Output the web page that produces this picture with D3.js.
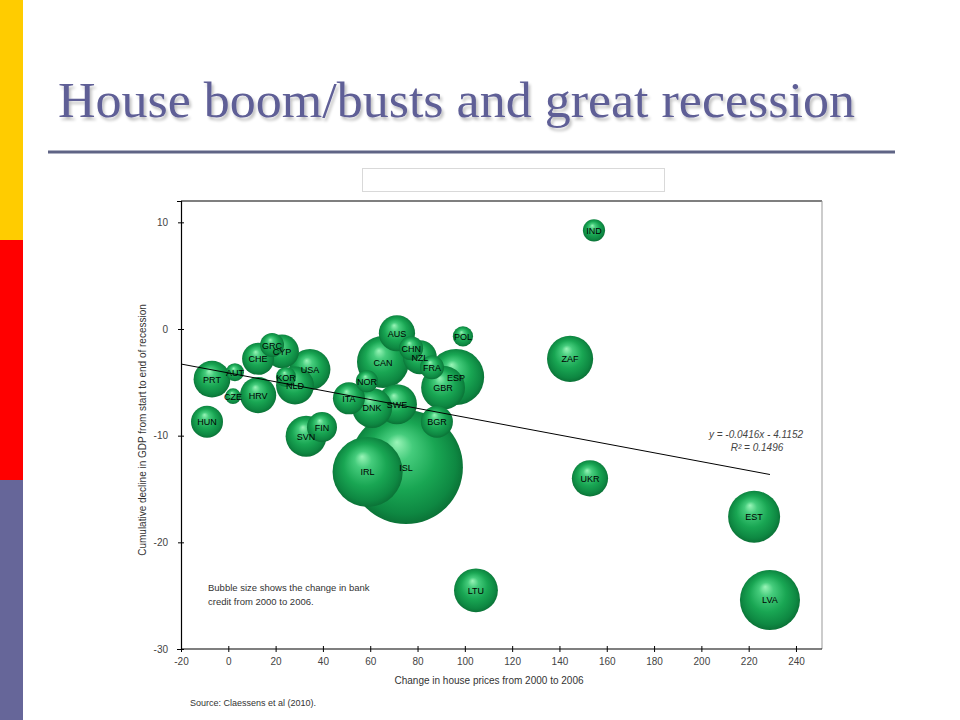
<!DOCTYPE html>
<html>
<head>
<meta charset="utf-8">
<script src="https://cdn.jsdelivr.net/npm/d3@7"></script>
<style>
  html, body { margin: 0; padding: 0; background: #fff; }
  svg { display: block; }
</style>
</head>
<body>
<svg id="chart" width="960" height="720"></svg>
<script>
// ---- data ----
const countries = ["ISL","IRL","ESP","LVA","EST","CAN","ZAF","LTU","GBR","USA","SVN","SWE","DNK","NLD","PRT","UKR","AUS","HRV","NZL","CYP","HUN","CHE","ITA","BGR","FIN","GRC","CHN","FRA","IND","NOR","POL","KOR","AUT","CZE"];
const housePrices = [75.1,58.9,96.3,229,222.3,65.4,144.5,104.7,90.8,34.5,32.9,71.3,60.8,28.2,-6.9,152.9,71.3,12.6,81,22.7,-9,12.6,51,88.2,39.6,18.5,77.3,86.1,154.6,58.6,99.2,24.4,2.8,2];
const gdpDecline = [-12.95,-13.4,-4.5,-25.4,-17.6,-3.1,-2.8,-24.5,-5.5,-3.8,-10.05,-7.05,-7.4,-5.3,-4.7,-14.0,-0.4,-6.2,-2.65,-2.1,-8.7,-2.8,-6.5,-8.7,-9.2,-1.5,-1.8,-3.6,9.25,-4.9,-0.7,-4.5,-4.05,-6.3];
const creditGrowth = [317,120,77,88,66,66,52,47,47,41,41,39,39,35,33,32,32,32,28,28,25,25,25,25,22,14,14,14,12,12,10,10,8,6];
const xTicks = [-20,0,20,40,60,80,100,120,140,160,180,200,220,240];
const yTicks = [10,0,-10,-20,-30];
const trendSlope = -0.0416, trendIntercept = -4.1152, trendR2 = 0.1496;

const svg = d3.select("#chart");
const defs = svg.append("defs");

// left stripe
const stripe = [["#FFCC00",0],["#FF0000",240],["#666699",480]];
svg.selectAll("rect.stripe").data(stripe).enter().append("rect")
  .attr("x",0).attr("y",d=>d[1]).attr("width",23).attr("height",240).attr("fill",d=>d[0]);

// title with soft shadow
const f = defs.append("filter").attr("id","tshadow").attr("x","-5%").attr("y","-20%").attr("width","110%").attr("height","150%");
f.append("feGaussianBlur").attr("in","SourceAlpha").attr("stdDeviation",1.5).attr("result","b");
f.append("feOffset").attr("in","b").attr("dx",2).attr("dy",3).attr("result","o");
f.append("feComponentTransfer").attr("in","o").attr("result","s").append("feFuncA").attr("type","linear").attr("slope",0.25);
const fm = f.append("feMerge"); fm.append("feMergeNode").attr("in","s"); fm.append("feMergeNode").attr("in","SourceGraphic");
svg.append("text").attr("x",58).attr("y",117)
  .attr("font-family","'Liberation Serif', 'DejaVu Serif', serif").attr("font-size",50)
  .attr("fill","#5E5E96").attr("filter","url(#tshadow)")
  .attr("textLength",797).attr("lengthAdjust","spacingAndGlyphs")
  .text("House boom/busts and great recession");
svg.append("line").attr("x1",48).attr("x2",895).attr("y1",152).attr("y2",152)
  .attr("stroke","#5F6485").attr("stroke-width",3);

// empty box
svg.append("rect").attr("x",362.5).attr("y",168.5).attr("width",302).attr("height",23)
  .attr("fill","#fff").attr("stroke","#d9d9d9");

// scales
const x = d3.scaleLinear().domain([-20,251]).range([181,822]);
const y = d3.scaleLinear().domain([-30,12]).range([649,201]);
const r = d3.scaleSqrt().domain([0,d3.max(creditGrowth)]).range([0,3.2*Math.sqrt(d3.max(creditGrowth))]);

// frame
svg.append("line").attr("x1",181).attr("x2",822).attr("y1",201).attr("y2",201).attr("stroke","#000").attr("stroke-width",1.2);
svg.append("line").attr("x1",822).attr("x2",822).attr("y1",201).attr("y2",649).attr("stroke","#999").attr("stroke-width",1);

// axes
const fontS = "'Liberation Sans', Arial, sans-serif";
const fmt = d => String(d);
const gx = svg.append("g").attr("transform","translate(0,649)")
  .call(d3.axisBottom(x).tickValues(xTicks).tickSize(3).tickPadding(6).tickFormat(fmt));
const gy = svg.append("g").attr("transform","translate(181,0)")
  .call(d3.axisLeft(y).tickValues(yTicks).tickSize(4).tickPadding(9).tickFormat(fmt));
[gx,gy].forEach(g=>{
  g.select(".domain").attr("stroke","#000").attr("stroke-width",1.2);
  g.selectAll(".tick line").attr("stroke","#000");
  g.selectAll(".tick text").attr("font-family",fontS).attr("font-size",10).attr("fill","#444");
});
gx.selectAll(".tick line").attr("y1",-3);
gy.selectAll(".tick line").attr("x2",-3).attr("x1",3);
gx.select(".domain").attr("d","M181,0H822");

svg.append("text").attr("x",489).attr("y",684).attr("text-anchor","middle")
  .attr("font-family",fontS).attr("font-size",10).attr("fill","#333")
  .text("Change in house prices from 2000 to 2006");
svg.append("text").attr("transform","translate(146,430) rotate(-90)").attr("text-anchor","middle")
  .attr("font-family",fontS).attr("font-size",10).attr("fill","#333")
  .text("Cumulative decline in GDP from start to end of recession");

// bubble gradient
const g = defs.append("radialGradient").attr("id","ball").attr("cx","50%").attr("cy","50%").attr("r","55%").attr("fx","42%").attr("fy","28%");
[["0%","#9AF5B8"],["22%","#45CC7C"],["55%","#19A653"],["82%","#0E8842"],["100%","#096630"]].forEach(s=>
  g.append("stop").attr("offset",s[0]).attr("stop-color",s[1]));

const data = countries.map((c,i)=>({c, hx:housePrices[i], gy:gdpDecline[i], s:creditGrowth[i]}));
const sorted = data.slice().sort((a,b)=>b.s-a.s);

svg.append("g").selectAll("circle").data(sorted).enter().append("circle")
  .attr("cx",d=>x(d.hx)).attr("cy",d=>y(d.gy)).attr("r",d=>r(d.s))
  .attr("fill","url(#ball)");

// trendline
const tx0 = -20, tx1 = d3.max(housePrices);
svg.append("line").attr("x1",x(tx0)).attr("y1",y(trendSlope*tx0+trendIntercept))
  .attr("x2",x(tx1)).attr("y2",y(trendSlope*tx1+trendIntercept))
  .attr("stroke","#000").attr("stroke-width",1);

// labels
svg.append("g").selectAll("text").data(sorted).enter().append("text")
  .attr("x",d=>x(d.hx)).attr("y",d=>y(d.gy)+3.5).attr("text-anchor","middle")
  .attr("font-family",fontS).attr("font-size",9).attr("fill","#000")
  .text(d=>d.c);

// trend equation
const eq = svg.append("g").attr("font-family",fontS).attr("font-size",10).attr("font-style","italic").attr("fill","#444").attr("text-anchor","middle");
eq.append("text").attr("x",756).attr("y",438).text(`y = ${trendSlope}x - ${Math.abs(trendIntercept)}`);
eq.append("text").attr("x",757).attr("y",451).text(`R² = ${trendR2}`);

// note
const note = svg.append("g").attr("font-family",fontS).attr("font-size",9.5).attr("fill","#333");
note.append("text").attr("x",208).attr("y",591).text("Bubble size shows the change in bank");
note.append("text").attr("x",208).attr("y",605).text("credit from 2000 to 2006.");

svg.append("text").attr("x",190).attr("y",706).attr("font-family",fontS).attr("font-size",9).attr("fill","#333")
  .text("Source: Claessens et al (2010).");
</script>
</body>
</html>
